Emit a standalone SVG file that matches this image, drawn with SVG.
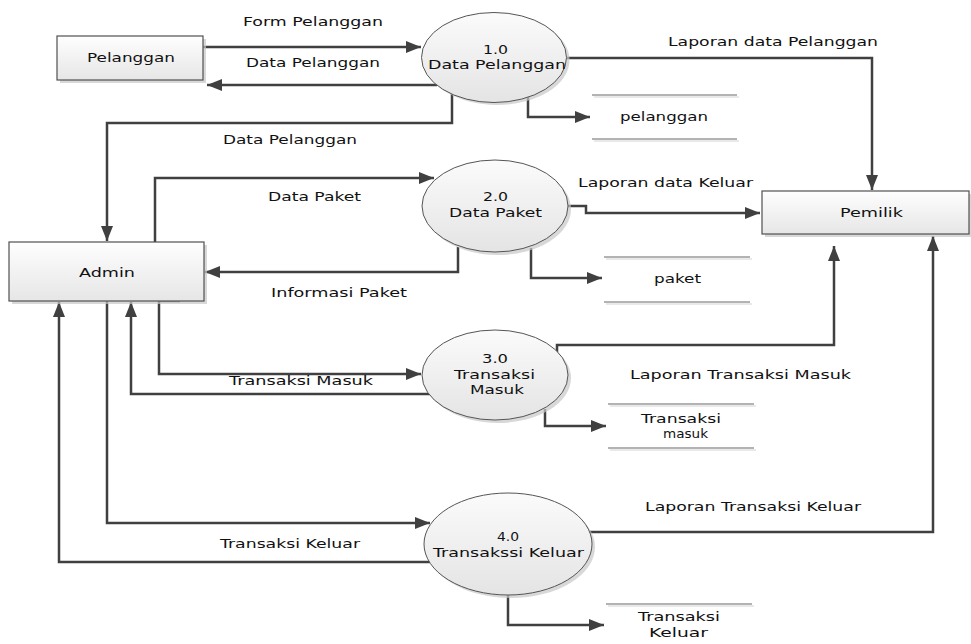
<svg xmlns="http://www.w3.org/2000/svg" width="971" height="644" viewBox="0 0 971 644">
<style>
.box{fill:url(#gBox);stroke:#505050;stroke-width:1.2}
.shadow{fill:#c8c8c8;opacity:0.7}
.proc{fill:url(#gProc);stroke:#555;stroke-width:1}
.store{stroke:#9a9a9a;stroke-width:1.5;fill:none}
.storesh{stroke:#e2e2e2;stroke-width:1.5;fill:none}
.conn{fill:none;stroke:#404040;stroke-width:2.5}
text{font-family:"DejaVu Sans","Liberation Sans",sans-serif;font-size:12.5px;fill:#111}
</style>
<defs>
<linearGradient id="gBox" x1="0" y1="0" x2="0" y2="1">
<stop offset="0" stop-color="#fefefe"/><stop offset="1" stop-color="#e6e6e6"/>
</linearGradient>
<linearGradient id="gProc" x1="0" y1="0" x2="0" y2="1">
<stop offset="0" stop-color="#fbfbfb"/><stop offset="1" stop-color="#e4e4e4"/>
</linearGradient>
<marker id="arr" markerUnits="userSpaceOnUse" markerWidth="16" markerHeight="12" refX="15" refY="6" orient="auto">
<path d="M0,0 L15,6 L0,12 z" fill="#404040"/>
</marker>
</defs>

<g id="connectors">
<path class="conn" d="M203,47 H421" marker-end="url(#arr)"/>
<path class="conn" d="M437,85 H207" marker-end="url(#arr)"/>
<path class="conn" d="M567,58 H872 V190" marker-end="url(#arr)"/>
<path class="conn" d="M528,97 V117 H590" marker-end="url(#arr)"/>
<path class="conn" d="M452,94 V123 H107 V241" marker-end="url(#arr)"/>
<path class="conn" d="M155,242 V178 H434" marker-end="url(#arr)"/>
<path class="conn" d="M458,247 V272 H205" marker-end="url(#arr)"/>
<path class="conn" d="M568,206 H586 V213 H760" marker-end="url(#arr)"/>
<path class="conn" d="M531,248 V278 H602" marker-end="url(#arr)"/>
<path class="conn" d="M180,301 H159 V374 H421" marker-end="url(#arr)"/>
<path class="conn" d="M430,394 H131 V302" marker-end="url(#arr)"/>
<path class="conn" d="M557,352 V345 H834 V246" marker-end="url(#arr)"/>
<path class="conn" d="M545,409 V426 H606" marker-end="url(#arr)"/>
<path class="conn" d="M107,301 V523 H430" marker-end="url(#arr)"/>
<path class="conn" d="M430,562 H59 V302" marker-end="url(#arr)"/>
<path class="conn" d="M590,532 H933 V236" marker-end="url(#arr)"/>
<path class="conn" d="M508,595 V625 H604" marker-end="url(#arr)"/>
</g>

<g id="pelanggan">
<rect class="shadow" x="60" y="39" width="146" height="44"/>
<rect class="box" x="57" y="36" width="146" height="44"/>
<text x="87" y="62" textLength="88" lengthAdjust="spacingAndGlyphs">Pelanggan</text>
</g>

<g id="admin">
<rect class="shadow" x="12" y="245" width="195" height="59"/>
<rect class="box" x="9" y="242" width="195" height="59"/>
<text x="79" y="277" textLength="56" lengthAdjust="spacingAndGlyphs">Admin</text>
</g>

<g id="pemilik">
<rect class="shadow" x="765" y="194" width="206" height="43"/>
<rect class="box" x="762" y="191" width="207" height="43"/>
<text x="840" y="217" textLength="63" lengthAdjust="spacingAndGlyphs">Pemilik</text>
</g>

<g id="p1">
<ellipse class="shadow" cx="497" cy="60" rx="72.5" ry="45"/>
<ellipse class="proc" cx="494" cy="57.5" rx="72.5" ry="45"/>
<text x="483" y="54" textLength="25" lengthAdjust="spacingAndGlyphs">1.0</text>
<text x="428" y="69" textLength="138" lengthAdjust="spacingAndGlyphs">Data Pelanggan</text>
</g>

<g id="p2">
<ellipse class="shadow" cx="498" cy="209" rx="73" ry="46"/>
<ellipse class="proc" cx="495" cy="206" rx="73" ry="46"/>
<text x="483" y="201" textLength="25" lengthAdjust="spacingAndGlyphs">2.0</text>
<text x="449" y="217" textLength="93" lengthAdjust="spacingAndGlyphs">Data Paket</text>
</g>

<g id="p3">
<ellipse class="shadow" cx="498" cy="378" rx="73" ry="45"/>
<ellipse class="proc" cx="495" cy="375" rx="73" ry="45"/>
<text x="482" y="363" textLength="26" lengthAdjust="spacingAndGlyphs">3.0</text>
<text x="454" y="379" textLength="81" lengthAdjust="spacingAndGlyphs">Transaksi</text>
<text x="470" y="394" textLength="54" lengthAdjust="spacingAndGlyphs">Masuk</text>
</g>

<g id="p4">
<ellipse class="shadow" cx="511" cy="547" rx="84" ry="51"/>
<ellipse class="proc" cx="508" cy="544" rx="84" ry="51"/>
<text x="497" y="541" textLength="22" lengthAdjust="spacingAndGlyphs">4.0</text>
<text x="433" y="557" textLength="151" lengthAdjust="spacingAndGlyphs">Transakssi Keluar</text>
</g>

<g id="ds-pelanggan">
<path class="storesh" d="M594,97 H739 M594,141 H739"/>
<path class="store" d="M592,95 H737 M592,139 H737"/>
<text x="620" y="121" textLength="88" lengthAdjust="spacingAndGlyphs">pelanggan</text>
</g>

<g id="ds-paket">
<path class="storesh" d="M606,259 H752 M606,304 H752"/>
<path class="store" d="M604,257 H750 M604,302 H750"/>
<text x="654" y="283" textLength="47" lengthAdjust="spacingAndGlyphs">paket</text>
</g>

<g id="ds-masuk">
<path class="storesh" d="M610,406 H756 M610,450 H756"/>
<path class="store" d="M608,404 H754 M608,448 H754"/>
<text x="641" y="423" textLength="80" lengthAdjust="spacingAndGlyphs">Transaksi</text>
<text x="663" y="438" textLength="45" lengthAdjust="spacingAndGlyphs">masuk</text>
</g>

<g id="ds-keluar">
<path class="storesh" d="M608,606 H754"/>
<path class="store" d="M606,604 H752"/>
<text x="638" y="621" textLength="82" lengthAdjust="spacingAndGlyphs">Transaksi</text>
<text x="649" y="637" textLength="59" lengthAdjust="spacingAndGlyphs">Keluar</text>
</g>

<g id="labels">
<text x="243" y="26" textLength="140" lengthAdjust="spacingAndGlyphs">Form Pelanggan</text>
<text x="246" y="67" textLength="134" lengthAdjust="spacingAndGlyphs">Data Pelanggan</text>
<text x="668" y="46" textLength="210" lengthAdjust="spacingAndGlyphs">Laporan data Pelanggan</text>
<text x="223" y="144" textLength="134" lengthAdjust="spacingAndGlyphs">Data Pelanggan</text>
<text x="268" y="201" textLength="93" lengthAdjust="spacingAndGlyphs">Data Paket</text>
<text x="578" y="187" textLength="175" lengthAdjust="spacingAndGlyphs">Laporan data Keluar</text>
<text x="271" y="297" textLength="136" lengthAdjust="spacingAndGlyphs">Informasi Paket</text>
<text x="229" y="385" textLength="144" lengthAdjust="spacingAndGlyphs">Transaksi Masuk</text>
<text x="630" y="379" textLength="221" lengthAdjust="spacingAndGlyphs">Laporan Transaksi Masuk</text>
<text x="645" y="511" textLength="216" lengthAdjust="spacingAndGlyphs">Laporan Transaksi Keluar</text>
<text x="220" y="548" textLength="140" lengthAdjust="spacingAndGlyphs">Transaksi Keluar</text>
</g>
</svg>
